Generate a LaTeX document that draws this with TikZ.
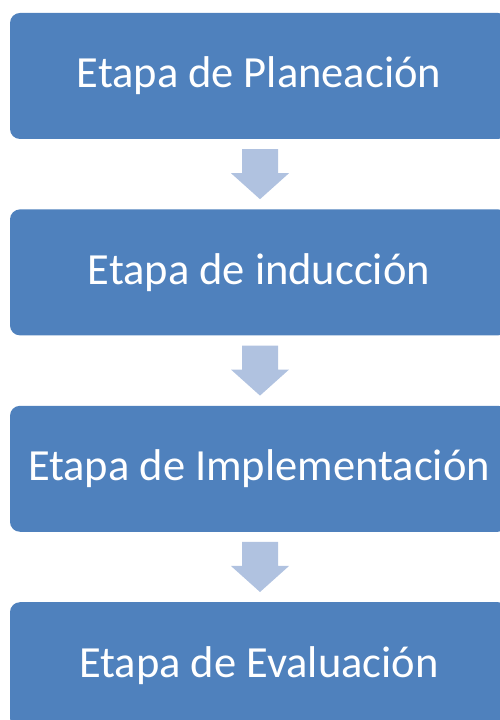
\documentclass[tikz,border=0pt]{standalone}
\usepackage{fontspec}
\setmainfont{Carlito}
\usetikzlibrary{positioning,calc}
\definecolor{azulcaja}{HTML}{4F81BD}
\definecolor{azulflecha}{HTML}{B0C2E0}
\tikzset{
  etapa/.style={fill=azulcaja,text=white,rounded corners=10pt,minimum width=498pt,
    minimum height=126pt,inner sep=0pt,font=\fontsize{44.5}{50}\selectfont},
  flecha/.style={fill=azulflecha}
}
\begin{document}
\begin{tikzpicture}[x=1pt,y=1pt,node distance=70pt]
	\useasboundingbox (0,0) rectangle (499,720);
	\node[etapa] (plan) at (259,644) {Etapa de Planeación};
	\node[etapa,below=of plan] (ind) {Etapa de inducción};
	\node[etapa,below=of ind] (impl) {Etapa de Implementación};
	\node[etapa,below=of impl] (eval) {Etapa de Evaluación};
	% flechas entre etapas
	\foreach \a/\b in {plan/ind,ind/impl,impl/eval}{
		\coordinate (s) at ($(\a.south)+(1,-10)$);
		\coordinate (t) at ($(\b.north)+(1,10)$);
		\fill[flecha] ($(s)+(-18,0)$) -- ($(s)+(18,0)$) -- ($(t)+(18,26)$) -- ($(t)+(29,26)$)
			-- (t) -- ($(t)+(-29,26)$) -- ($(t)+(-18,26)$) -- cycle;
	}
\end{tikzpicture}
\end{document}
